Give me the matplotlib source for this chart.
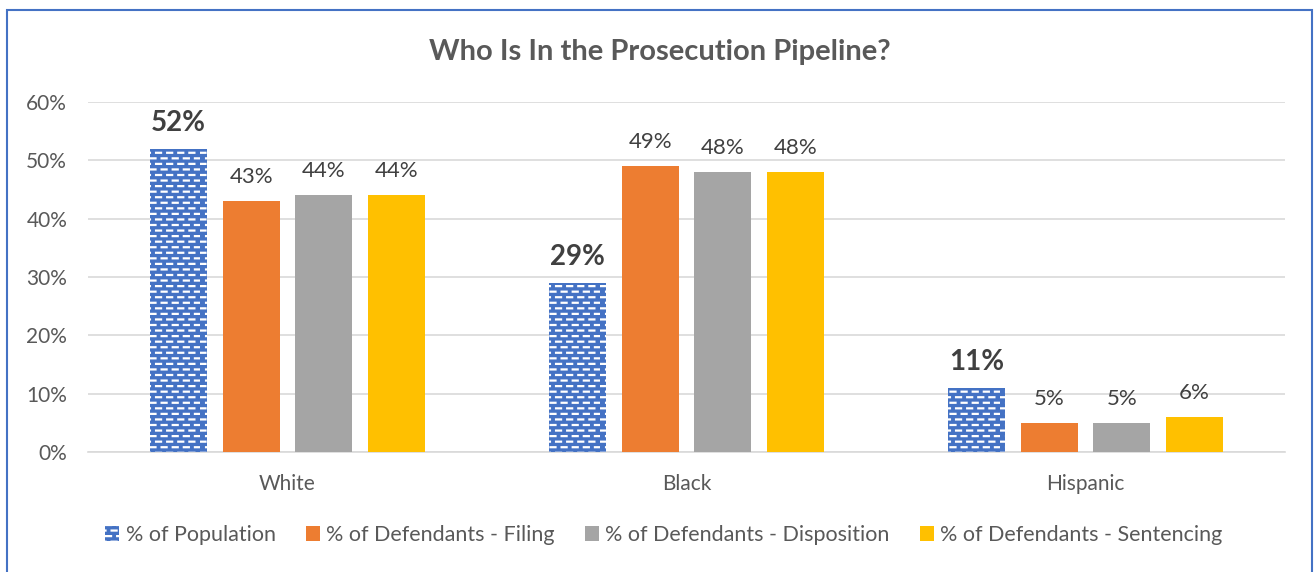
import matplotlib
matplotlib.use("Agg")
import matplotlib.pyplot as plt
import numpy as np
from matplotlib import hatch as mhatch
from matplotlib.path import Path
from matplotlib.patches import Rectangle

# ---- data ----
categories = ["White", "Black", "Hispanic"]
series_names = ["% of Population", "% of Defendants - Filing",
                "% of Defendants - Disposition", "% of Defendants - Sentencing"]
population = [52, 29, 11]
filing = [43, 49, 5]
disposition = [44, 48, 5]
sentencing = [44, 48, 6]
y_ticks = [0, 10, 20, 30, 40, 50, 60]

series_values = [population, filing, disposition, sentencing]
colors = ["#4472C4", "#ED7D31", "#A5A5A5", "#FFC000"]


# Brick-style dashed hatch used for the population series
class BrickDashHatch(mhatch.HatchPatternBase):
    rows = 18
    cols = 9
    dash = 0.05

    def __init__(self, hatch, density):
        self.on = '-' in hatch
        self.num_vertices = self.rows * self.cols * 2 if self.on else 0

    def set_vertices_and_codes(self, vertices, codes):
        k = 0
        for r in range(self.rows):
            y = (r + 0.5) / self.rows
            off = 0.0 if r % 2 == 0 else 0.5 / self.cols
            for c in range(self.cols):
                x0 = c / self.cols + off + 0.005
                vertices[k] = (x0, y)
                vertices[k + 1] = (x0 + self.dash, y)
                codes[k] = Path.MOVETO
                codes[k + 1] = Path.LINETO
                k += 2


mhatch._hatch_types = [h for h in mhatch._hatch_types
                       if h is not mhatch.HorizontalHatch] + [BrickDashHatch]

plt.rcParams['font.family'] = ['Lato', 'DejaVu Sans']
plt.rcParams['hatch.linewidth'] = 1.6

fig = plt.figure(figsize=(13.15, 5.72), dpi=100)
W, H = 1315, 572
ax = fig.add_axes([88 / W, 1 - 452 / H, (1285 - 88) / W, 350 / H])

x = np.arange(len(categories))
step = 0.1817
width = 0.143
offsets = (np.arange(4) - 1.5) * step

for i, (vals, col) in enumerate(zip(series_values, colors)):
    if i == 0:
        bars = ax.bar(x + offsets[i], vals, width, color=col, edgecolor='white',
                      linewidth=0, hatch='-', label=series_names[i], zorder=3)
        for b, v in zip(bars, vals):
            ax.annotate(f"{v}%", (b.get_x() + b.get_width() / 2, v),
                        xytext=(0, 26), textcoords='offset pixels',
                        ha='center', va='center', fontsize=20,
                        fontweight='bold', color='#404040')
    else:
        bars = ax.bar(x + offsets[i], vals, width, color=col, linewidth=0,
                      label=series_names[i], zorder=3)
        for b, v in zip(bars, vals):
            ax.annotate(f"{v}%", (b.get_x() + b.get_width() / 2, v),
                        xytext=(0, 24), textcoords='offset pixels',
                        ha='center', va='center', fontsize=16,
                        color='#404040')

ax.set_xlim(-0.5, len(categories) - 0.5)
ax.set_ylim(0, 60)
ax.set_yticks(y_ticks)
ax.set_yticklabels([f"{t}%" for t in y_ticks])
ax.set_xticks(x)
ax.set_xticklabels(categories)
ax.tick_params(axis='both', length=0, labelsize=15, colors='#595959')
ax.tick_params(axis='y', pad=15)
ax.tick_params(axis='x', pad=16)
ax.yaxis.grid(True, color='#D9D9D9', linewidth=1.2, zorder=0)
ax.set_axisbelow(True)
for s in ['top', 'right', 'left']:
    ax.spines[s].set_visible(False)
ax.spines['bottom'].set_color('#D9D9D9')
ax.spines['bottom'].set_linewidth(1.2)

fig.text(660 / W, 1 - 52 / H, "Who Is In the Prosecution Pipeline?",
         ha='center', va='center', fontsize=21, fontweight='bold',
         color='#595959')

leg = fig.legend(loc='center', bbox_to_anchor=(664 / W, 1 - 535 / H), ncol=4,
                 frameon=False, fontsize=15.5, handlelength=0.65,
                 handleheight=0.65, handletextpad=0.3, columnspacing=1.4)
for t in leg.get_texts():
    t.set_color('#595959')

# chart frame
fig.patches.append(Rectangle((7 / W, -0.05), (1312 - 7) / W, 1.05 - 10 / H,
                             transform=fig.transFigure, fill=False,
                             edgecolor='#4472C4', linewidth=1.5))

fig.savefig("out.png", dpi=100)
